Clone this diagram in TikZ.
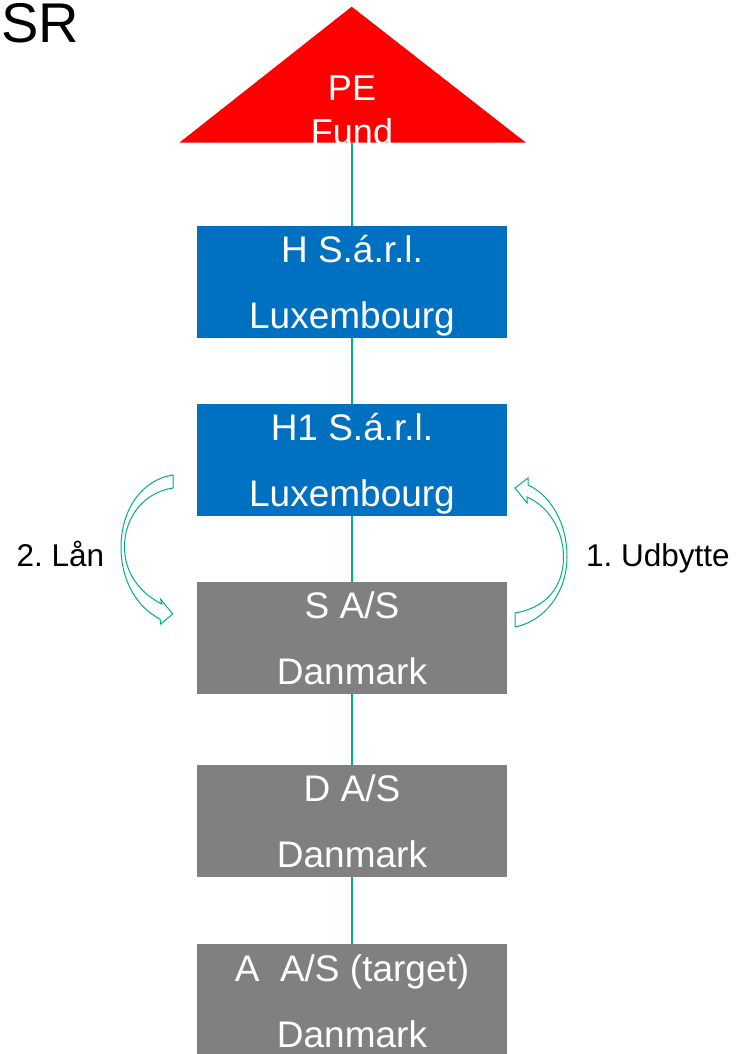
\documentclass[tikz,border=0pt]{standalone}
\usepackage{fontspec}
\setmainfont{Liberation Sans}
\definecolor{lnk}{RGB}{0,176,132}
\definecolor{blu}{RGB}{0,112,192}
\definecolor{gry}{RGB}{128,128,128}
\definecolor{pered}{RGB}{255,0,0}
\frenchspacing
\begin{document}
\begin{tikzpicture}[x=1pt,y=-1pt,
  box/.style={minimum width=310pt,minimum height=112pt,inner sep=0pt,outer sep=0pt,draw=none},
  bluebox/.style={box,fill=blu},
  greybox/.style={box,fill=gry},
  boxtext/.style={anchor=base,text=white,font=\fontsize{37}{44}\selectfont,inner sep=0pt},
  petext/.style={anchor=base,text=white,font=\fontsize{36}{43}\selectfont,inner sep=0pt},
  side/.style={anchor=base west,font=\fontsize{31.5}{38}\selectfont,inner sep=0pt},
  link/.style={draw=lnk,line width=1.5pt},
  bendarrow/.style={draw=lnk,line width=1pt,fill=white,line join=miter}]

\useasboundingbox (0,0) rectangle (736,1054);

% title
\node[anchor=base west,font=\fontsize{56}{62}\selectfont,inner sep=0pt] (sr) at (1,43) {SR};

% PE fund triangle
\fill[pered] (179.3,142.7) -- (351.7,6.7) -- (526,142.7) -- cycle;
\coordinate (pebase) at (352,142.7);
\node[petext] (pe) at (352,100.7) {PE};
\node[petext] (fund) at (352,144) {Fund};

% boxes
\node[bluebox] (h) at (352,282) {};
\node[bluebox] (h1) at (352,460) {};
\node[greybox] (s) at (352,637.5) {};
\node[greybox] (d) at (352,820.5) {};
\node[greybox] (a) at (352,1000) {};

% box texts
\node[boxtext] (ht1) at (352,262) {H S.á.r.l.};
\node[boxtext] (ht2) at (352,328.5) {Luxembourg};
\node[boxtext] (h1t1) at (352,440) {H1 S.á.r.l.};
\node[boxtext] (h1t2) at (352,506.5) {Luxembourg};
\node[boxtext] (st1) at (352,618) {S A/S};
\node[boxtext] (st2) at (352,684.5) {Danmark};
\node[boxtext] (dt1) at (352,801) {D A/S};
\node[boxtext] (dt2) at (352,867.5) {Danmark};
\node[boxtext] (at1) at (352,981) {A\ \ A/S (target)};
\node[boxtext] (at2) at (352,1047) {Danmark};

% connectors
\draw[link] (pebase) -- (h.north);
\draw[link] (h.south) -- (h1.north);
\draw[link] (h1.south) -- (s.north);
\draw[link] (s.south) -- (d.north);
\draw[link] (d.south) -- (a.north);

% left curved arrow (loan)
\draw[bendarrow] (173,475)
  .. controls (140,480) and (121,512) .. (121,547)
  .. controls (121,582) and (138,608) .. (160,619)
  -- (160.7,624) -- (172.7,614) -- (160.7,599.3) -- (161.7,604)
  .. controls (142,594) and (124.5,575) .. (124.5,547)
  .. controls (124.5,516) and (145,492) .. (173,488)
  -- cycle;

% right curved arrow (dividend)
\draw[bendarrow] (515,627)
  .. controls (545,621) and (567,592) .. (567,557)
  .. controls (567,522) and (550,495) .. (528,485)
  -- (528,478) -- (515,488) -- (527,503) -- (527,497)
  .. controls (548,506) and (563.5,530) .. (563.5,557)
  .. controls (563.5,588) and (545,608) .. (515,613)
  -- cycle;

% side labels
\node[side] (laan) at (16.5,566.7) {2. Lån};
\node[side] (udb) at (586,566.7) {1. Udbytte};
\end{tikzpicture}
\end{document}
